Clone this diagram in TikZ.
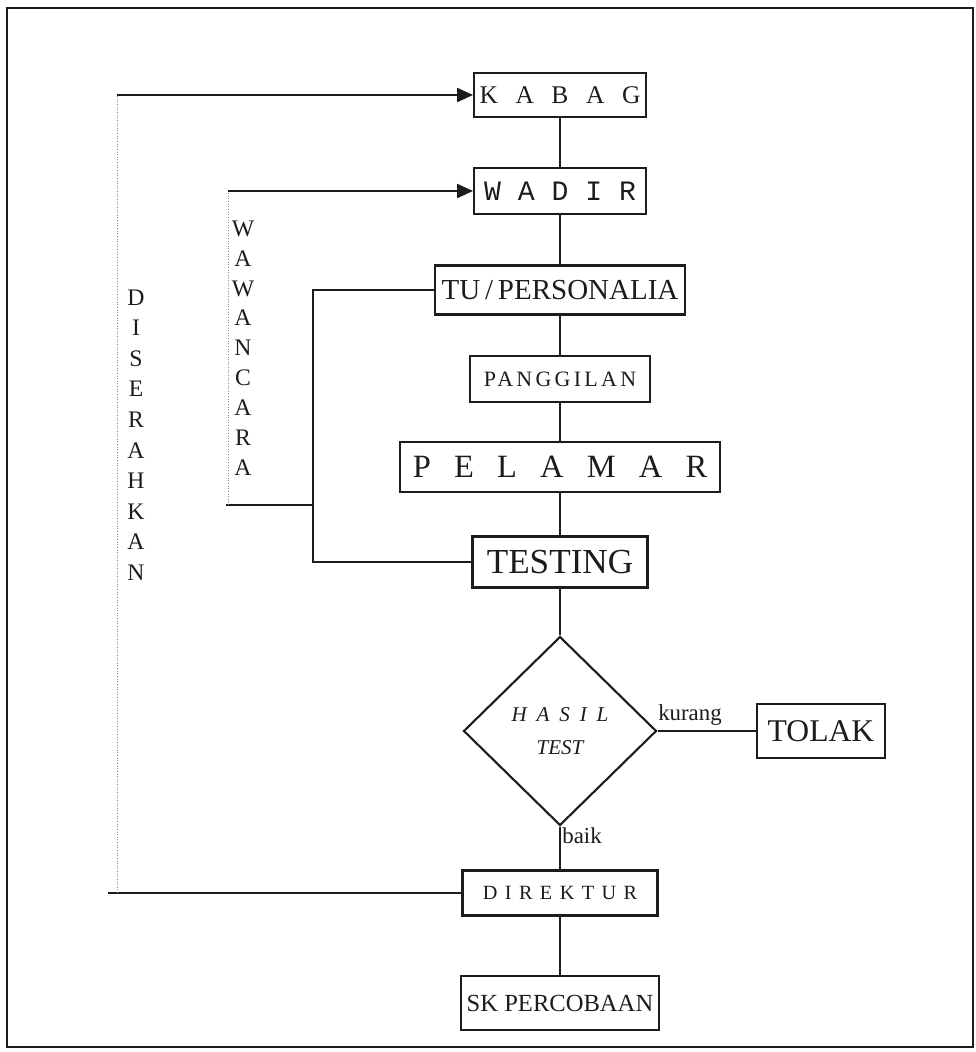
\documentclass[tikz,border=0pt]{standalone}
\usepackage{fontspec}
\setmainfont{Liberation Serif}
\newfontfamily\ketikfont{Liberation Mono}
\usepackage{xcolor}
\usetikzlibrary{shapes.geometric,arrows.meta}
\definecolor{InkDark}{HTML}{1C1C1C}
\definecolor{InkDot}{HTML}{8C8C8C}

\begin{document}
\begin{tikzpicture}[
	x=0.02cm, y=-0.02cm,
	kotak/.style={
		rectangle,
		draw=InkDark,
		line width=1.2pt,
		inner sep=0pt,
		text=InkDark,
		align=center
	},
	% garis penghubung
	edge/.style={
		draw=InkDark,
		line width=1pt
	},
	titik/.style={
		draw=InkDot,
		line width=0.5pt,
		densely dotted
	},
	panah/.style={
		-{Triangle[length=9pt,width=8pt]}
	},
	huruf/.style={
		text=InkDark,
		align=center
	}
	]
	
	\useasboundingbox (0,0) rectangle (975,1052);
	\draw[InkDark, line width=0.8pt] (7,8) rectangle (973,1047);
	
	% ================= NODES =================
	\node[kotak, minimum width=3.44cm, minimum height=0.88cm,
		font={\fontsize{14.5}{17}\selectfont\spaceskip=10pt}] (kabag) at (560,95) {K A B A G};
	\node[kotak, minimum width=3.44cm, minimum height=0.92cm,
		font={\ketikfont\fontsize{16}{20}\selectfont}] (wadir) at (560,191) {W A D I R};
	\node[kotak, minimum width=5.0cm, minimum height=0.98cm,
		font={\fontsize{16.5}{19}\selectfont}] (tu) at (560,290) {TU\,/\,PERSONALIA};
	\node[kotak, minimum width=3.6cm, minimum height=0.92cm,
		font={\fontsize{12.5}{15}\selectfont\addfontfeatures{LetterSpace=15}}] (panggil) at (560,379) {PANGGILAN};
	\node[kotak, minimum width=6.4cm, minimum height=1.0cm,
		font={\fontsize{18.5}{22}\selectfont\spaceskip=13.2pt}] (pelamar) at (560,467) {P E L A M A R};
	\node[kotak, minimum width=3.5cm, minimum height=1.02cm,
		font={\fontsize{20}{24}\selectfont}] (testing) at (560,562) {TESTING};
	
	\node[diamond, draw=InkDark, line width=1.2pt, inner sep=0pt,
		minimum width=3.86cm, minimum height=3.78cm, text=InkDark, align=center,
		font={\itshape\fontsize{12}{19}\selectfont\spaceskip=5.6pt}] (hasil) at (560,731) {H A S I L\\TEST};
	\node[kotak, minimum width=2.56cm, minimum height=1.08cm,
		font={\fontsize{18}{22}\selectfont}] (tolak) at (821,731) {TOLAK};
	
	\node[kotak, minimum width=3.9cm, minimum height=0.9cm,
		font={\fontsize{11.5}{14}\selectfont\addfontfeatures{LetterSpace=37}}] (direktur) at (560,893) {DIREKTUR};
	\node[kotak, minimum width=3.96cm, minimum height=1.08cm,
		font={\fontsize{14}{17}\selectfont}] (sk) at (560,1003) {SK PERCOBAAN};
	
	% label tegak
	\node[huruf, font={\fontsize{13.5}{17.4}\selectfont}] (serah) at (136,435)
		{D\\I\\S\\E\\R\\A\\H\\K\\A\\N};
	\node[huruf, font={\fontsize{13.5}{17}\selectfont}] (wawan) at (243,348)
		{W\\A\\W\\A\\N\\C\\A\\R\\A};
	
	% label cabang
	\node[huruf, font={\fontsize{13}{15}\selectfont}] (kurang) at (690,715) {kurang};
	\node[huruf, font={\fontsize{13}{15}\selectfont}] (baik) at (582,836) {baik};
	
	% titik bebas
	\coordinate (s1) at (108,893);
	\coordinate (s2) at (117,893);
	\coordinate (s3) at (117,95);
	\coordinate (w1) at (226,505);
	\coordinate (w2) at (228,505);
	\coordinate (w3) at (228,191);
	\coordinate (b1) at (313,505);
	
	% ================= EDGES =================
	\draw[edge] (kabag) -- (wadir);
	\draw[edge] (wadir) -- (tu);
	\draw[edge] (tu) -- (panggil);
	\draw[edge] (panggil) -- (pelamar);
	\draw[edge] (pelamar) -- (testing);
	\draw[edge] (testing) -- (hasil);
	\draw[edge] (hasil) -- (tolak);
	\draw[edge] (hasil) -- (direktur);
	\draw[edge] (direktur) -- (sk);
	
	\draw[edge] (tu.west) -| (b1) |- (testing.west);
	\draw[edge] (w1) -- (b1);
	\draw[titik] (w2) -- (w3);
	\draw[edge, panah] (w3) -- (wadir.west);
	
	\draw[edge] (direktur.west) -- (s1);
	\draw[titik] (s2) -- (s3);
	\draw[edge, panah] (s3) -- (kabag.west);
	
\end{tikzpicture}
\end{document}
